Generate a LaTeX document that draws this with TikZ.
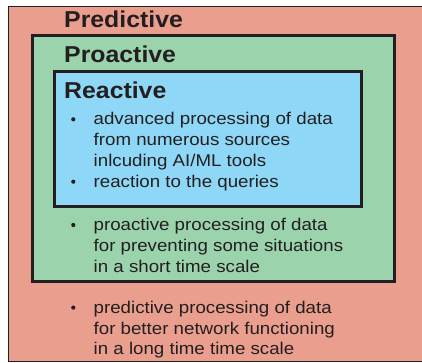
\documentclass[tikz,border=0pt]{standalone}
\usepackage{fontspec}
\newfontfamily\headfont{Liberation Sans}[FakeStretch=1.08]
\newfontfamily\bodyfont{Liberation Sans}[FakeStretch=1.1]
\definecolor{predfill}{HTML}{E99E8E}
\definecolor{proafill}{HTML}{9BD3AC}
\definecolor{reacfill}{HTML}{8FD7F7}
\definecolor{ink}{HTML}{231F20}
\tikzset{
  layerbox/.style={draw=ink, line width=3pt},
  headtext/.style={anchor=base west, inner sep=0pt, text=ink,
    font={\headfont\bfseries\fontsize{23}{27}\selectfont}},
  % multi-line items are placed by the baseline of their last line
  bodytext/.style={anchor=base west, inner sep=0pt, text=ink, align=left,
    font={\bodyfont\fontsize{17}{20.8}\selectfont}},
  bulletdot/.style={circle, fill=ink, inner sep=0pt, minimum size=4.2pt}
}
\begin{document}
\begin{tikzpicture}[x=1pt, y=1pt]
  \useasboundingbox (0,0) rectangle (422,-363);
  \clip (0,0) rectangle (422,-363);

  % nested layers
  \filldraw[fill=predfill, draw=ink, line width=1.5pt] (8.5,-6.5) rectangle (440,-361.5);
  \filldraw[layerbox, fill=proafill] (32.5,-36) rectangle (394.5,-281.5);
  \filldraw[layerbox, fill=reacfill] (54.5,-71.5) rectangle (361.5,-206.5);

  % headings
  \node[headtext] (hpred) at (64,-28) {Predictive};
  \node[headtext] (hproa) at (64,-62.3) {Proactive};
  \node[headtext] (hreac) at (64,-98.7) {Reactive};

  % reactive items
  \node[bulletdot] (rb1) at (73.3,-119.3) {};
  \node[bodytext] (rt1) at (93.5,-166.6) {advanced processing of data\\from numerous sources\\inlcuding AI/ML tools};
  \node[bulletdot] (rb2) at (73.3,-181.7) {};
  \node[bodytext] (rt2) at (93.5,-187.4) {reaction to the queries};

  % proactive item
  \node[bulletdot] (pb1) at (73.3,-225) {};
  \node[bodytext] (pt1) at (93.5,-272.3) {proactive processing of data\\for preventing some situations\\in a short time scale};

  % predictive item
  \node[bulletdot] (db1) at (73.3,-307.6) {};
  \node[bodytext] (dt1) at (93.5,-354.9) {predictive processing of data\\for better network functioning\\in a long time time scale};
\end{tikzpicture}
\end{document}
